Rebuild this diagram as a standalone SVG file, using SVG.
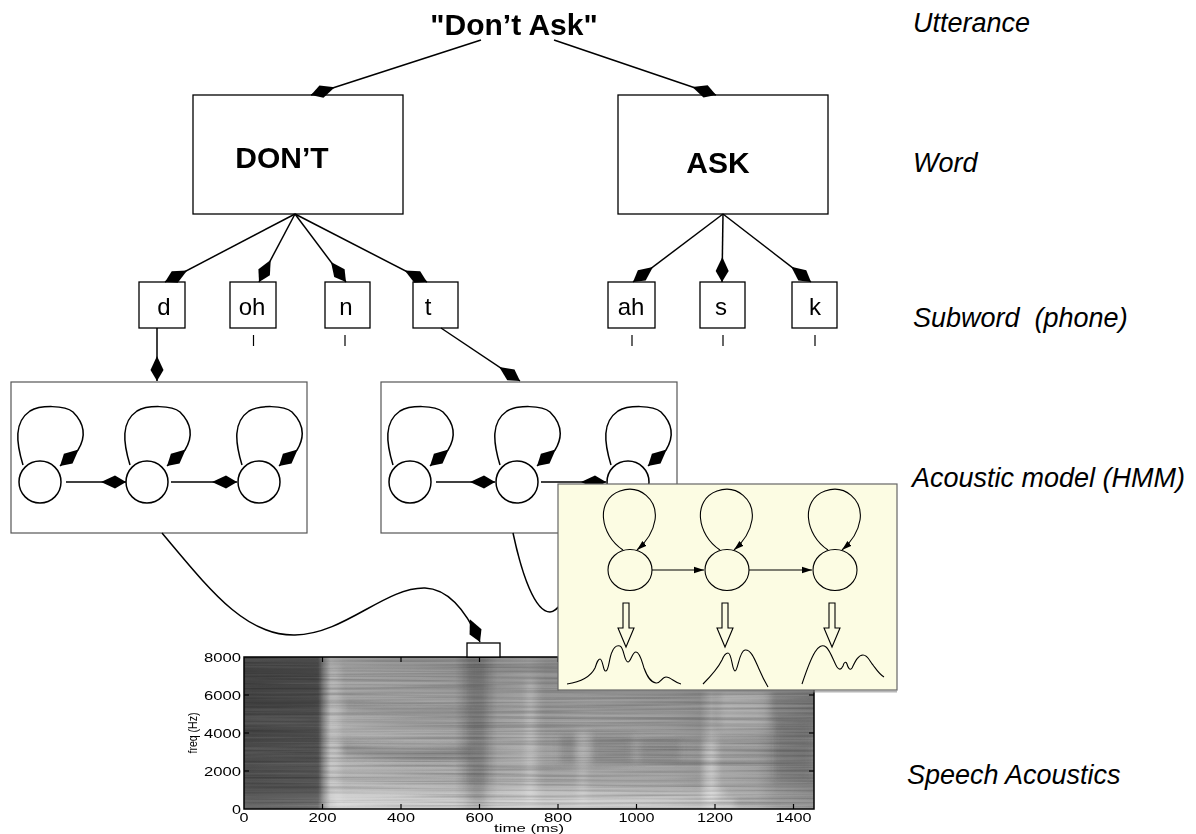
<svg xmlns="http://www.w3.org/2000/svg" width="1196" height="834" viewBox="0 0 1196 834">
<defs>
<style>
.lbl{font-family:"Liberation Sans",Arial,Helvetica,sans-serif;font-style:italic;font-size:27px;fill:#000;white-space:pre}
.big{font-family:"Liberation Sans",Arial,Helvetica,sans-serif;font-weight:bold;font-size:30px;fill:#000}
.ph{font-family:"Liberation Sans",Arial,Helvetica,sans-serif;font-size:24px;text-anchor:middle;fill:#000}
.ax{font-family:"Liberation Sans",Arial,Helvetica,sans-serif;font-size:12px;fill:#000}
.box{fill:#fff;stroke:#000;stroke-width:1.3}
.hbox{fill:#fff;stroke:#555;stroke-width:1.2}
.con{fill:none;stroke:#000;stroke-width:1.5}
.st{fill:#fff;stroke:#000;stroke-width:1.5}
.thin{fill:none;stroke:#000;stroke-width:1.1}
.tick{stroke:#000;stroke-width:1.2}
</style>
<marker id="kite" viewBox="0 -8 26 16" refX="25" refY="0" markerWidth="26" markerHeight="16" markerUnits="userSpaceOnUse" orient="auto">
<path d="M0,0 L14,-6.5 L25,0 L14,6.5 Z" fill="#000"/>
</marker>
<marker id="tri" viewBox="0 -4 11 8" refX="10" refY="0" markerWidth="11" markerHeight="8" markerUnits="userSpaceOnUse" orient="auto">
<path d="M0,-3.2 L10,0 L0,3.2 Z" fill="#000"/>
</marker>
<path id="loopL" class="con" d="M-17,-17 C-24,-40 -26,-60 -10,-71 C0,-77 25,-77 33,-70 C45,-58 46,-45 38,-32 L20,-16" marker-end="url(#kite)"/>
<path id="loopS" class="thin" d="M-7,-20 C-30,-35 -35,-70 -10,-79 C10,-86 28,-70 25,-50 C23,-37 15,-27 7,-20" marker-end="url(#tri)"/>
<path id="hollow" d="M-3,0 L3,0 L3,25 L8,25 L0,44 L-8,25 L-3,25 Z" fill="none" stroke="#000" stroke-width="1.1"/>
<linearGradient id="specX" x1="244" y1="0" x2="814" y2="0" gradientUnits="userSpaceOnUse">
<stop offset="0" stop-color="#4e4e4e"/>
<stop offset="0.13" stop-color="#575757"/>
<stop offset="0.137" stop-color="#858585"/>
<stop offset="0.152" stop-color="#c2c2c2"/>
<stop offset="0.175" stop-color="#b8b8b8"/>
<stop offset="0.37" stop-color="#ababab"/>
<stop offset="0.395" stop-color="#8e8e8e"/>
<stop offset="0.42" stop-color="#909090"/>
<stop offset="0.445" stop-color="#aaaaaa"/>
<stop offset="0.5" stop-color="#b3b3b3"/>
<stop offset="0.53" stop-color="#a4a4a4"/>
<stop offset="0.6" stop-color="#a8a8a8"/>
<stop offset="0.75" stop-color="#a2a2a2"/>
<stop offset="0.8" stop-color="#9a9a9a"/>
<stop offset="0.82" stop-color="#b4b4b4"/>
<stop offset="0.838" stop-color="#a8a8a8"/>
<stop offset="0.9" stop-color="#a0a0a0"/>
<stop offset="0.935" stop-color="#8c8c8c"/>
<stop offset="1" stop-color="#808080"/>
</linearGradient>
<linearGradient id="specY" x1="0" y1="657" x2="0" y2="809" gradientUnits="userSpaceOnUse">
<stop offset="0" stop-color="#000" stop-opacity="0.15"/>
<stop offset="0.5" stop-color="#000" stop-opacity="0.04"/>
<stop offset="0.85" stop-color="#fff" stop-opacity="0.05"/>
<stop offset="1" stop-color="#fff" stop-opacity="0.22"/>
</linearGradient>
<filter id="soft" x="-0.2" y="-0.2" width="1.4" height="1.4">
<feGaussianBlur stdDeviation="3.5"/>
</filter>
<filter id="streak" x="0" y="0" width="1" height="1">
<feTurbulence type="fractalNoise" baseFrequency="0.005 0.4" numOctaves="2" seed="5"/>
<feColorMatrix type="matrix" values="0 0 0 0 0  0 0 0 0 0  0 0 0 0 0  1.3 0 0 0 -0.5"/>
</filter>
<filter id="streakW" x="0" y="0" width="1" height="1">
<feTurbulence type="fractalNoise" baseFrequency="0.006 0.4" numOctaves="2" seed="11"/>
<feColorMatrix type="matrix" values="0 0 0 0 1  0 0 0 0 1  0 0 0 0 1  1.2 0 0 0 -0.55"/>
</filter>
<clipPath id="specClip"><rect x="244" y="657" width="570" height="152"/></clipPath>
</defs>

<rect width="1196" height="834" fill="#fff"/>

<!-- Level labels -->
<g id="labels">
<text class="lbl" x="913" y="32">Utterance</text>
<text class="lbl" x="913" y="172">Word</text>
<text class="lbl" x="913" y="327">Subword  (phone)</text>
<text class="lbl" x="912" y="487">Acoustic model (HMM)</text>
<text class="lbl" x="907" y="784">Speech Acoustics</text>
</g>

<!-- Spectrogram -->
<g id="spectrogram">
<g clip-path="url(#specClip)">
<rect x="244" y="657" width="570" height="152" fill="url(#specX)"/>
<rect x="244" y="657" width="570" height="152" fill="url(#specY)"/>
<g filter="url(#soft)">
<rect x="244" y="657" width="78" height="152" fill="#3a3a3a" opacity="0.2"/>
<path d="M340,742 C380,748 420,752 470,746 L470,758 C420,764 380,760 340,754 Z" fill="#555" opacity="0.3"/>
<path d="M345,700 C390,706 430,712 470,706 L470,716 C430,722 390,716 345,712 Z" fill="#666" opacity="0.2"/>
<rect x="335" y="790" width="390" height="6" fill="#fff" opacity="0.4"/>
<rect x="335" y="800" width="400" height="7" fill="#fff" opacity="0.55"/>
<rect x="330" y="665" width="10" height="140" fill="#fff" opacity="0.15"/>
<rect x="526" y="680" width="10" height="125" fill="#fff" opacity="0.18"/>
<rect x="578" y="730" width="9" height="75" fill="#fff" opacity="0.18"/>
<rect x="703" y="740" width="14" height="65" fill="#fff" opacity="0.25"/>
<rect x="560" y="735" width="18" height="28" fill="#555" opacity="0.28"/>
<rect x="592" y="735" width="40" height="28" fill="#555" opacity="0.28"/>
<rect x="640" y="740" width="40" height="22" fill="#555" opacity="0.22"/>
<rect x="470" y="660" width="15" height="145" fill="#555" opacity="0.22"/>
<rect x="720" y="690" width="50" height="40" fill="#fff" opacity="0.2"/>
<rect x="775" y="720" width="35" height="60" fill="#444" opacity="0.2"/>
</g>
<rect x="244" y="657" width="570" height="152" filter="url(#streak)" opacity="0.35"/>
<rect x="244" y="657" width="570" height="152" filter="url(#streakW)" opacity="0.2"/>
</g>
<rect x="244" y="657" width="570" height="152" fill="none" stroke="#000" stroke-width="1.5"/>
<g class="tick">
<line x1="244" y1="695" x2="249" y2="695"/><line x1="244" y1="733" x2="249" y2="733"/><line x1="244" y1="771" x2="249" y2="771"/>
<line x1="814" y1="695" x2="809" y2="695"/><line x1="814" y1="733" x2="809" y2="733"/><line x1="814" y1="771" x2="809" y2="771"/>
<line x1="322.5" y1="809" x2="322.5" y2="804"/><line x1="401" y1="809" x2="401" y2="804"/><line x1="479.5" y1="809" x2="479.5" y2="804"/><line x1="558" y1="809" x2="558" y2="804"/><line x1="636.5" y1="809" x2="636.5" y2="804"/><line x1="715" y1="809" x2="715" y2="804"/><line x1="793.5" y1="809" x2="793.5" y2="804"/>
<line x1="322.5" y1="657" x2="322.5" y2="662"/><line x1="401" y1="657" x2="401" y2="662"/><line x1="479.5" y1="657" x2="479.5" y2="662"/><line x1="558" y1="657" x2="558" y2="662"/>
</g>
<g class="ax">
<text x="241" y="662" text-anchor="end" textLength="37" lengthAdjust="spacingAndGlyphs">8000</text>
<text x="241" y="700" text-anchor="end" textLength="37" lengthAdjust="spacingAndGlyphs">6000</text>
<text x="241" y="738" text-anchor="end" textLength="37" lengthAdjust="spacingAndGlyphs">4000</text>
<text x="241" y="776" text-anchor="end" textLength="37" lengthAdjust="spacingAndGlyphs">2000</text>
<text x="241" y="814" text-anchor="end" textLength="9" lengthAdjust="spacingAndGlyphs">0</text>
<text x="244" y="822" text-anchor="middle" textLength="9" lengthAdjust="spacingAndGlyphs">0</text>
<text x="322.5" y="822" text-anchor="middle" textLength="28" lengthAdjust="spacingAndGlyphs">200</text>
<text x="401" y="822" text-anchor="middle" textLength="28" lengthAdjust="spacingAndGlyphs">400</text>
<text x="479.5" y="822" text-anchor="middle" textLength="28" lengthAdjust="spacingAndGlyphs">600</text>
<text x="558" y="822" text-anchor="middle" textLength="28" lengthAdjust="spacingAndGlyphs">800</text>
<text x="636.5" y="822" text-anchor="middle" textLength="36" lengthAdjust="spacingAndGlyphs">1000</text>
<text x="715" y="822" text-anchor="middle" textLength="36" lengthAdjust="spacingAndGlyphs">1200</text>
<text x="793.5" y="822" text-anchor="middle" textLength="36" lengthAdjust="spacingAndGlyphs">1400</text>
<text x="529" y="832" text-anchor="middle" font-size="11" textLength="70" lengthAdjust="spacingAndGlyphs">time (ms)</text>
<text transform="translate(197,733) rotate(-90)" text-anchor="middle" textLength="41" lengthAdjust="spacingAndGlyphs">freq (Hz)</text>
</g>
<rect id="frame" x="467" y="643" width="33" height="14" fill="#fff" stroke="#000" stroke-width="1.3"/>
</g>

<!-- Utterance -->
<g id="utterance">
<text class="big" x="514" y="35" text-anchor="middle">"Don’t Ask"</text>
</g>

<!-- Words -->
<g id="word-dont">
<rect class="box" x="193" y="95" width="210" height="119"/>
<text class="big" x="282" y="168" text-anchor="middle">DON’T</text>
</g>
<g id="word-ask">
<rect class="box" x="618" y="95" width="210" height="119"/>
<text class="big" x="718" y="173" text-anchor="middle">ASK</text>
</g>

<!-- Phones -->
<g id="ph-d"><rect class="box" x="139" y="282" width="46" height="46"/><text class="ph" x="164" y="315">d</text></g>
<g id="ph-oh"><rect class="box" x="230" y="282" width="46" height="46"/><text class="ph" x="252" y="315">oh</text><line class="tick" x1="253.5" y1="335" x2="253.5" y2="346"/></g>
<g id="ph-n"><rect class="box" x="325" y="282" width="45" height="46"/><text class="ph" x="346" y="315">n</text><line class="tick" x1="345" y1="335" x2="345" y2="346"/></g>
<g id="ph-t"><rect class="box" x="413" y="282" width="45" height="46"/><text class="ph" x="428" y="315">t</text></g>
<g id="ph-ah"><rect class="box" x="608" y="282" width="47" height="46"/><text class="ph" x="631" y="315">ah</text><line class="tick" x1="632" y1="335" x2="632" y2="346"/></g>
<g id="ph-s"><rect class="box" x="700" y="282" width="45" height="46"/><text class="ph" x="721" y="315">s</text><line class="tick" x1="723" y1="335" x2="723" y2="346"/></g>
<g id="ph-k"><rect class="box" x="792" y="282" width="45" height="46"/><text class="ph" x="815" y="315">k</text><line class="tick" x1="815" y1="335" x2="815" y2="346"/></g>

<!-- HMM for d -->
<g id="hmm-d">
<rect class="hbox" x="11" y="382" width="296" height="151"/>
<circle class="st" cx="40" cy="482" r="21"/>
<circle class="st" cx="147" cy="482" r="21"/>
<circle class="st" cx="259" cy="482" r="21"/>
<use href="#loopL" x="40" y="482"/>
<use href="#loopL" x="147" y="482"/>
<use href="#loopL" x="259" y="482"/>
<line class="con" x1="66" y1="482" x2="126" y2="482" marker-end="url(#kite)"/>
<line class="con" x1="171" y1="482" x2="237" y2="482" marker-end="url(#kite)"/>
</g>

<!-- HMM for t -->
<g id="hmm-t">
<rect class="hbox" x="381" y="382" width="296" height="151"/>
<circle class="st" cx="410" cy="482" r="21"/>
<circle class="st" cx="517" cy="482" r="21"/>
<circle class="st" cx="628" cy="482" r="21"/>
<use href="#loopL" x="410" y="482"/>
<use href="#loopL" x="517" y="482"/>
<use href="#loopL" x="628" y="482"/>
<line class="con" x1="436" y1="482" x2="495" y2="482" marker-end="url(#kite)"/>
<line class="con" x1="541" y1="482" x2="606" y2="482" marker-end="url(#kite)"/>
</g>

<!-- Connectors -->
<g id="connectors">
<line class="con" x1="481" y1="40" x2="311" y2="95" marker-end="url(#kite)"/>
<line class="con" x1="554" y1="40" x2="716" y2="95" marker-end="url(#kite)"/>
<line class="con" x1="295" y1="214" x2="165" y2="282" marker-end="url(#kite)"/>
<line class="con" x1="295" y1="214" x2="259" y2="282" marker-end="url(#kite)"/>
<line class="con" x1="295" y1="214" x2="346" y2="282" marker-end="url(#kite)"/>
<line class="con" x1="295" y1="214" x2="427" y2="282" marker-end="url(#kite)"/>
<line class="con" x1="723" y1="214" x2="633" y2="282" marker-end="url(#kite)"/>
<line class="con" x1="723" y1="214" x2="722" y2="282" marker-end="url(#kite)"/>
<line class="con" x1="723" y1="214" x2="811" y2="282" marker-end="url(#kite)"/>
<line class="con" x1="157" y1="328" x2="157" y2="381" marker-end="url(#kite)"/>
<line class="con" x1="441" y1="328" x2="520" y2="381" marker-end="url(#kite)"/>
<path class="con" d="M162,533 C210,590 245,636 295,635 C345,634 385,587 425,588 C450,589 468,615 480,642" marker-end="url(#kite)"/>
<path class="con" d="M513,533 C522,575 535,612 550,612 C554,612 557,609 562,603"/>
</g>

<!-- HMM detail inset -->
<g id="inset">
<rect x="558" y="484" width="339" height="206" fill="#fcfce3" stroke="#666" stroke-width="1.2"/>
<line x1="559" y1="691.5" x2="897" y2="691.5" stroke="#888" stroke-width="2" opacity="0.6"/>
<ellipse class="thin" cx="630" cy="570" rx="22" ry="20.5"/>
<ellipse class="thin" cx="727" cy="570" rx="22" ry="20.5"/>
<ellipse class="thin" cx="835" cy="570" rx="22" ry="20.5"/>
<use href="#loopS" x="630" y="570"/>
<use href="#loopS" x="727" y="570"/>
<use href="#loopS" x="835" y="570"/>
<line class="thin" x1="652" y1="570" x2="704" y2="570" marker-end="url(#tri)"/>
<line class="thin" x1="749" y1="570" x2="812" y2="570" marker-end="url(#tri)"/>
<use href="#hollow" x="626" y="603"/>
<use href="#hollow" x="725" y="603"/>
<use href="#hollow" x="832" y="603"/>
<path class="thin" d="M567,684 C580,682 590,678 595,668 C597,662 598,659 600,659 C603,659 603,672 606,671 C609,670 609,658 612,652 C614,647 617,645 620,646 C624,647 624,662 628,662 C631,662 632,652 636,652 C640,652 642,662 644,668 C647,676 650,682 656,683 C660,684 662,677 666,677 C671,677 675,683 681,684"/>
<path class="thin" d="M703,684 C710,677 718,668 722,660 C724,655 726,653 728,653 C732,653 732,671 735,671 C738,671 739,651 745,650 C751,649 755,660 759,669 C762,676 765,682 768,687"/>
<path class="thin" d="M802,684 C806,672 810,660 815,652 C818,647 822,644 826,647 C830,650 834,662 837,667 C839,670 841,670 843,666 C844,662 846,661 847,664 C848,668 850,671 852,668 C855,662 858,655 863,655 C868,655 870,662 873,665 C876,669 879,674 884,677"/>
</g>
</svg>
